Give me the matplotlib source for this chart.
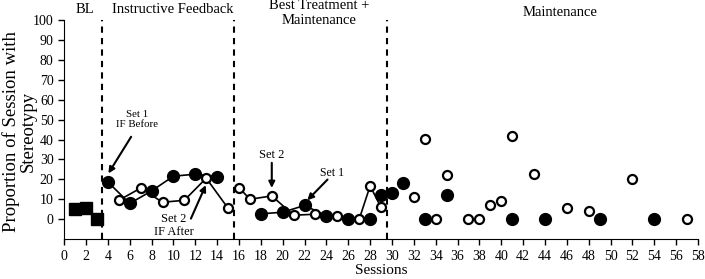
import matplotlib.pyplot as plt

plt.rcParams['font.family'] = ['Liberation Serif', 'DejaVu Serif']

# baseline
bl_x = [1, 2, 3]
bl_y = [5, 5.7, 0]

# instructive feedback
if1_x = [4, 6, 8, 10, 12, 14]
if1_y = [18.7, 7.9, 14.2, 21.6, 22.6, 21.3]
if2_x = [5, 7, 9, 11, 13, 15]
if2_y = [9.5, 15.6, 8.5, 9.5, 20.6, 5.5]

# best treatment + maintenance
bt1_x = [18, 20, 22, 24, 26, 28]
bt1_y = [2.7, 3.5, 6.9, 1.7, 0, 0]
bt2_x = [16, 17, 19, 21, 23, 25, 27, 28, 29]
bt2_y = [15.9, 10, 11.7, 2, 2.5, 1.7, 0, 16.7, 5.9]

# maintenance (no lines)
m1_x = [29, 30, 31, 33, 35, 41, 44, 49, 54]
m1_y = [12.4, 13.4, 18.3, 0, 12.4, 0, 0, 0, 0]
m2_x = [32, 33, 34, 35, 37, 38, 39, 40, 41, 43, 46, 48, 52, 57]
m2_y = [10.9, 40.5, 0, 22.4, 0, 0, 6.9, 8.9, 41.9, 22.6, 5.7, 3.9, 20.1, 0]

phase_lines = [3.5, 15.5, 29.5]

fig = plt.figure(figsize=(7.05, 2.79), dpi=100)
ax = fig.add_axes([0.091, 0.143, 0.899, 0.785])

filled = dict(marker='o', color='black', markersize=8.5, linewidth=1.2)
opened = dict(marker='o', color='black', markerfacecolor='white', markeredgewidth=1.6,
              markersize=6.5, linewidth=1.2)

ax.plot(bl_x, bl_y, marker='s', color='black', markersize=8, linewidth=1.2, clip_on=False)
ax.plot(if1_x, if1_y, **filled)
ax.plot(if2_x, if2_y, **opened)
ax.plot(bt1_x, bt1_y, **filled)
ax.plot(bt2_x, bt2_y, **opened)
ax.plot(m1_x, m1_y, linestyle='none', marker='o', color='black', markersize=8.5)
ax.plot(m2_x, m2_y, linestyle='none', marker='o', color='black', markerfacecolor='white',
        markeredgewidth=1.6, markersize=6.5)

for x in phase_lines:
    ax.plot([x, x], [-10, 100], color='black', linestyle=(0, (3, 2.5)), linewidth=1.5,
            clip_on=False)

ax.set_xlim(0, 58)
ax.set_ylim(-10, 100)
ax.set_xticks(range(0, 59, 2))
ax.set_yticks(range(0, 101, 10))
ax.spines['top'].set_visible(False)
ax.spines['right'].set_visible(False)
ax.tick_params(labelsize=10, length=4, width=1)
ax.set_xlabel('Sessions', fontsize=11, labelpad=1)
ax.set_ylabel('Proportion of Session with\nStereotypy', fontsize=13.5, linespacing=0.95)
ax.yaxis.set_label_coords(-0.044, 0.49)

# phase titles
ax.text(1.9, 105.3, 'BL', ha='center', va='center', fontsize=10.5, clip_on=False)
ax.text(9.9, 105.3, 'Instructive Feedback', ha='center', va='center', fontsize=10.5,
        clip_on=False)
ax.text(23.3, 103.6, 'Best Treatment +\nMaintenance', ha='center', va='center', fontsize=10.5,
        linespacing=1.2, clip_on=False)
ax.text(45.4, 104, 'Maintenance', ha='center', va='center', fontsize=10.5, clip_on=False)

arrow = dict(arrowstyle='-|>', color='black', lw=1.5, mutation_scale=9, shrinkA=0, shrinkB=0)
ax.text(6.7, 50, 'Set 1\nIF Before', ha='center', va='center', fontsize=7.8, linespacing=1.15)
ax.annotate('', xy=(4.05, 23), xytext=(6.13, 41.4), arrowprops=arrow)
ax.text(10, -3, 'Set 2\nIF After', ha='center', va='center', fontsize=9, linespacing=1.1)
ax.annotate('', xy=(12.96, 17.1), xytext=(11.6, 0.3), arrowprops=arrow)
ax.text(19, 32.2, 'Set 2', ha='center', va='center', fontsize=9)
ax.annotate('', xy=(19, 15.7), xytext=(19, 28.3), arrowprops=arrow)
ax.text(24.5, 23.3, 'Set 1', ha='center', va='center', fontsize=8.5)
ax.annotate('', xy=(22.25, 9.5), xytext=(24.1, 19.9), arrowprops=arrow)

fig.savefig('out.png', dpi=100)
